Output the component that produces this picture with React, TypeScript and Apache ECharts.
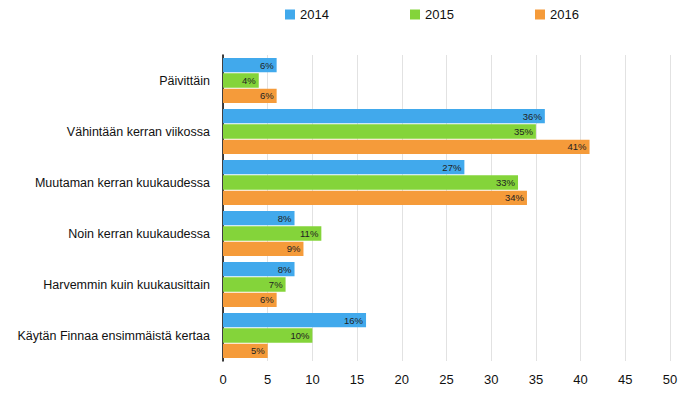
import React, { useEffect, useRef } from "react";
import * as echarts from "echarts";

const categories = [
  "Päivittäin",
  "Vähintään kerran viikossa",
  "Muutaman kerran kuukaudessa",
  "Noin kerran kuukaudessa",
  "Harvemmin kuin kuukausittain",
  "Käytän Finnaa ensimmäistä kertaa",
];
const seriesNames = ["2014", "2015", "2016"];
const values2014 = [6, 36, 27, 8, 8, 16];
const values2015 = [4, 35, 33, 11, 7, 10];
const values2016 = [6, 41, 34, 9, 6, 5];
const colors = ["#41A9EC", "#84D43A", "#F59B3A"];
const legendLefts = [280, 405, 530];

export default function App() {
  const ref = useRef<HTMLDivElement>(null);
  useEffect(() => {
    if (!ref.current) return;
    const chart = echarts.init(ref.current, undefined, { renderer: "svg" });
    const font = "'Liberation Sans', Arial, Helvetica, sans-serif";
    const data = [values2014, values2015, values2016];
    chart.setOption({
      animation: false,
      textStyle: { fontFamily: font },
      legend: seriesNames.map((n, i) => ({
        data: [n],
        left: legendLefts[i],
        top: 3,
        itemWidth: 10,
        itemHeight: 10,
        itemGap: 8,
        icon: "rect",
        textStyle: { fontFamily: font, fontSize: 13, color: "#111" },
      })),
      grid: { left: 223, right: 30, top: 55, height: 306 },
      xAxis: {
        type: "value",
        min: 0,
        max: 50,
        interval: 5,
        axisLine: { show: false },
        axisTick: { show: false },
        axisLabel: { fontSize: 13, color: "#111", margin: 12, fontFamily: font },
        splitLine: { lineStyle: { color: "#E2E2E2", width: 1 } },
      },
      yAxis: {
        type: "category",
        data: categories,
        inverse: true,
        axisLine: { show: true, lineStyle: { color: "#000", width: 1.5 } },
        axisTick: { show: false },
        axisLabel: { fontSize: 12.5, color: "#111", margin: 13, fontFamily: font },
      },
      series: seriesNames.map((n, i) => ({
        name: n,
        type: "bar",
        data: data[i],
        itemStyle: { color: colors[i] },
        barGap: "7%",
        barCategoryGap: "12%",
        label: {
          show: true,
          position: "insideRight",
          formatter: "{c}%",
          fontSize: 9.5,
          color: "#222",
          distance: 3,
          fontFamily: font,
        },
      })),
    });
    return () => chart.dispose();
  }, []);
  return <div ref={ref} style={{ width: 700, height: 397, margin: -8 }} />;
}
